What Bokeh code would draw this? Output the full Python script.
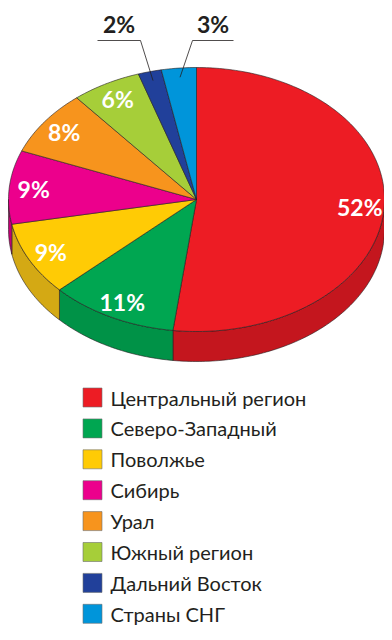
import math
from bokeh.plotting import figure
from bokeh.models import Range1d
from bokeh.core.properties import value
from bokeh.embed import file_html
from bokeh.resources import INLINE

# ---- data ----
regions = ["Центральный регион", "Северо-Западный", "Поволжье", "Сибирь",
           "Урал", "Южный регион", "Дальний Восток", "Страны СНГ"]
shares = [52, 11, 9, 9, 8, 6, 2, 3]
top_colors = ["#ed1c24", "#00a651", "#ffcb05", "#ec008c",
              "#f7941d", "#a6ce39", "#21409a", "#0095da"]
side_colors = ["#c4161e", "#009247", "#d4a914", "#c20074",
               "#d07a14", "#8bb02c", "#1a3480", "#007bb5"]
outside = [False, False, False, False, False, False, True, True]

# ---- layout ----
W, H = 384, 632
CX, CY, RX, RY, DEPTH = 196, 199, 188, 132, 30
EDGE = "#231f20"
TEXT = "#231f20"

p = figure(width=W, height=H, output_backend="svg", toolbar_location=None,
           x_range=Range1d(0, W), y_range=Range1d(H, 0),
           min_border=0)
p.axis.visible = False
p.grid.visible = False
p.outline_line_color = None
p.background_fill_color = "white"


def pt(theta, dy=0.0, f=1.0):
    t = math.radians(theta)
    return CX + RX * f * math.sin(t), CY - RY * f * math.cos(t) + dy


def arc(a, b, dy=0.0, n_per_deg=1.0):
    n = max(2, int(abs(b - a) * n_per_deg) + 1)
    return [pt(a + (b - a) * i / (n - 1), dy) for i in range(n)]


total = float(sum(shares))
angles = []
acc = 0.0
for s in shares:
    a0 = acc / total * 360.0
    acc += s
    a1 = acc / total * 360.0
    angles.append((a0, a1))

# side walls (visible front half, 90..270 deg clockwise from top)
sx, sy, sc = [], [], []
for (a0, a1), col in zip(angles, side_colors):
    lo, hi = max(a0, 90.0), min(a1, 270.0)
    if hi <= lo:
        continue
    top = arc(lo, hi)
    bot = arc(lo, hi, DEPTH)[::-1]
    pts = top + bot
    sx.append([q[0] for q in pts])
    sy.append([q[1] for q in pts])
    sc.append(col)
p.patches(sx, sy, fill_color=sc, line_color=EDGE, line_width=0.6)

# top faces
tx, ty = [], []
for (a0, a1) in angles:
    pts = [(CX, CY)] + arc(a0, a1)
    tx.append([q[0] for q in pts])
    ty.append([q[1] for q in pts])
p.patches(tx, ty, fill_color=top_colors, line_color=EDGE, line_width=0.6)

# labels inside slices
lx, ly, lt = [], [], []
for (a0, a1), s, o in zip(angles, shares, outside):
    if o:
        continue
    x, y = pt((a0 + a1) / 2.0, f=0.87)
    lx.append(x)
    ly.append(y)
    lt.append(f"{s}%")
p.text(lx, ly, text=lt, text_color="white", text_font=value("Lato"),
       text_font_style="bold", text_font_size="23px",
       text_align="center", text_baseline="middle")

# labels outside with leader lines
LINE_Y = 40
elbows = {6: (140, -43), 7: (192, 41)}
for i, ((a0, a1), s, o) in enumerate(zip(angles, shares, outside)):
    if not o:
        continue
    ex, ey = pt((a0 + a1) / 2.0, f=0.93)
    kx, run = elbows[i]
    p.line([ex, kx, kx + run], [ey, LINE_Y, LINE_Y], line_color=EDGE,
           line_width=0.8)
    p.text([kx + run / 2.0], [LINE_Y - 3], text=[f"{s}%"], text_color=TEXT,
           text_font=value("Lato"), text_font_style="bold",
           text_font_size="23px", text_align="center",
           text_baseline="bottom")

# legend
LEG_Y0, LEG_DY, SQ_X, SQ = 397, 30.9, 92, 19
ys = [LEG_Y0 + i * LEG_DY for i in range(len(regions))]
p.rect([SQ_X] * len(regions), ys, width=SQ, height=SQ, fill_color=top_colors,
       line_color="#6d6e71", line_width=0.6)
p.text([SQ_X + 18] * len(regions), ys, text=regions, text_color=TEXT,
       text_font=value("Lato"), text_font_size="20px",
       text_align="left", text_baseline="middle")

open("out.html", "w").write(file_html(p, INLINE))
